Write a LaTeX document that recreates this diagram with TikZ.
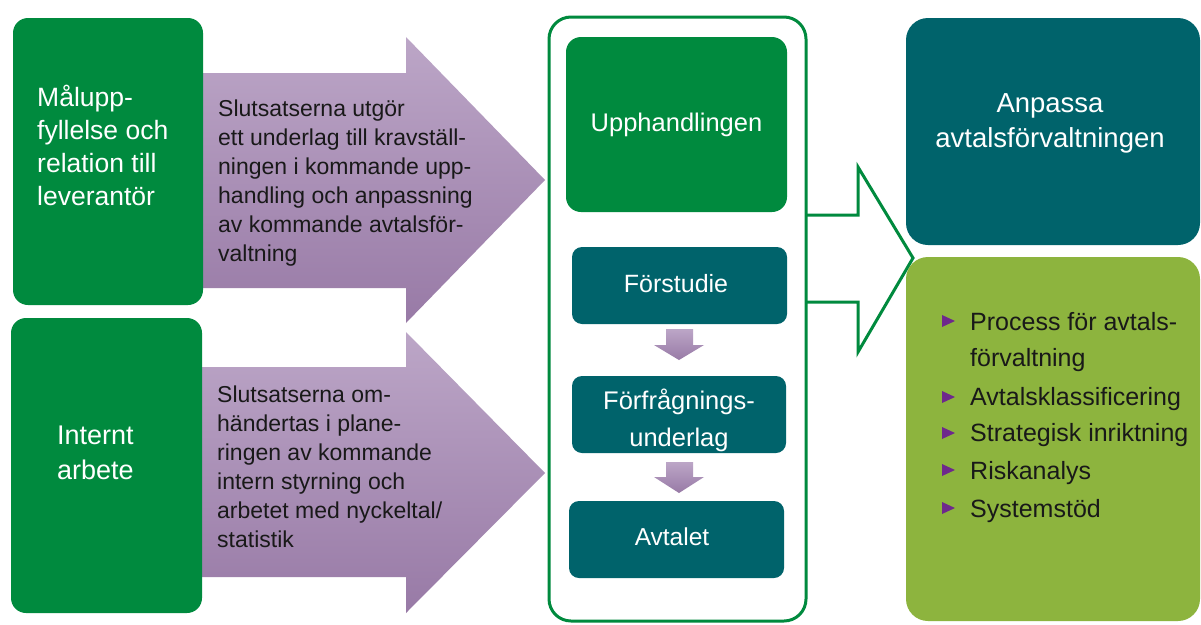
\documentclass[tikz,border=0pt]{standalone}
\usepackage{fontspec}
\setmainfont{Liberation Sans}
\definecolor{dgreen}{RGB}{0,138,62}
\definecolor{tealbox}{RGB}{0,99,107}
\definecolor{limebox}{RGB}{141,180,62}
\definecolor{ptop}{RGB}{188,166,199}
\definecolor{pbot}{RGB}{152,122,166}
\definecolor{bulletc}{RGB}{110,40,140}
\definecolor{darktext}{RGB}{25,25,25}
\tikzset{
  gbox/.style={rectangle, fill=dgreen, rounded corners=15pt, inner sep=0pt, outer sep=0pt},
  tbox/.style={rectangle, fill=tealbox, rounded corners=10pt, inner sep=0pt, outer sep=0pt},
  wtxt/.style={text=white, inner sep=0pt},
  btxt/.style={text=darktext, inner sep=0pt},
  bigarrow/.style={top color=ptop, bottom color=pbot, draw=none},
  smallarrow/.style={top color=ptop, bottom color=pbot, draw=none},
  bultri/.style={fill=bulletc},
  bultext/.style={btxt, anchor=base west, font=\fontsize{25}{30}\selectfont},
}
\begin{document}
\begin{tikzpicture}[x=1pt,y=-1pt]
\useasboundingbox[fill=white] (0,0) rectangle (1201,624);

% purple arrows
\path[bigarrow] (200,73) -- (406,73) -- (406,37) -- (545,180) -- (406,323) -- (406,288) -- (200,288) -- cycle;
\path[bigarrow] (200,367) -- (406,367) -- (406,332) -- (545,473) -- (406,613) -- (406,577) -- (200,577) -- cycle;

% left boxes
\node[gbox, minimum width=190, minimum height=287] (m1) at (108,161.5) {};
\node[gbox, minimum width=191, minimum height=295] (m2) at (106.5,465.5) {};
\node[wtxt, anchor=west, align=left, font=\fontsize{26.5}{33}\selectfont] (m1t) at (37,145) {Målupp-\\fyllelse och\\relation till\\leverantör};
\node[wtxt, anchor=west, align=left, font=\fontsize{27}{35}\selectfont] (m2t) at (57,453) {Internt\\arbete};

% arrow texts
\node[btxt, anchor=west, align=left, font=\fontsize{23}{29}\selectfont] (a1t) at (218,183) {Slutsatserna utgör\\ett underlag till kravställ-\\ningen i kommande upp-\\handling och anpassning\\av kommande avtalsför-\\valtning};
\node[btxt, anchor=west, align=left, font=\fontsize{23}{29}\selectfont] (a2t) at (217,467) {Slutsatserna om-\\händertas i plane-\\ringen av kommande\\intern styrning och\\arbetet med nyckeltal/\\statistik};

% outline arrow
\filldraw[fill=white, draw=dgreen, line width=3pt, line join=miter] (806,215) -- (858,215) -- (858,167) -- (913,258) -- (858,352) -- (858,302) -- (806,302);

% container
\node[draw=dgreen, line width=3pt, rounded corners=22pt, minimum width=257, minimum height=604, inner sep=0pt] (cont) at (677.5,319) {};

% inner boxes
\node[gbox, minimum width=221, minimum height=175, wtxt, font=\fontsize{25.5}{30}\selectfont] (upph) at (676.5,124.5) {Upphandlingen};
\node[tbox, minimum width=215, minimum height=77] (forst) at (679.5,285.5) {};
\node[wtxt, font=\fontsize{25}{30}\selectfont] (forstt) at (676,284) {Förstudie};
\node[tbox, minimum width=214, minimum height=77] (forfr) at (679,414.5) {};
\node[wtxt, align=center, font=\fontsize{25.5}{37}\selectfont] (forfrt) at (679,420) {Förfrågnings-\\underlag};
\node[tbox, minimum width=215, minimum height=77] (avt) at (676.5,539.5) {};
\node[wtxt, font=\fontsize{24.5}{30}\selectfont] (avtt) at (672,537) {Avtalet};

% small arrows
\path[smallarrow] (666,329) -- (693,329) -- (693,345) -- (704,345) -- (679,360) -- (654,345) -- (666,345) -- cycle;
\path[smallarrow] (666,462) -- (693,462) -- (693,477) -- (704,477) -- (679,493) -- (654,477) -- (666,477) -- cycle;

% right boxes
\node[rectangle, fill=tealbox, rounded corners=22pt, minimum width=294, minimum height=227, inner sep=0pt] (anp) at (1053,131.5) {};
\node[wtxt, align=center, font=\fontsize{27.5}{35}\selectfont] (anpt) at (1050,123) {Anpassa\\avtalsförvaltningen};
\node[rectangle, fill=limebox, rounded corners=22pt, minimum width=294, minimum height=364, inner sep=0pt] (lst) at (1053,439) {};

% bullets
\node[bultext] (b1) at (970,330) {Process för avtals-};
\node[bultext] (b1b) at (970,366) {förvaltning};
\node[bultext] (b2) at (970,405) {Avtalsklassificering};
\node[bultext] (b3) at (970,441) {Strategisk inriktning};
\node[bultext] (b4) at (970,479) {Riskanalys};
\node[bultext] (b5) at (970,517) {Systemstöd};
\foreach \yy in {321, 397, 433, 470, 508}{
  \fill[bultri] (942,\yy-6) -- (955,\yy) -- (942,\yy+6) -- cycle;
}
\end{tikzpicture}
\end{document}
